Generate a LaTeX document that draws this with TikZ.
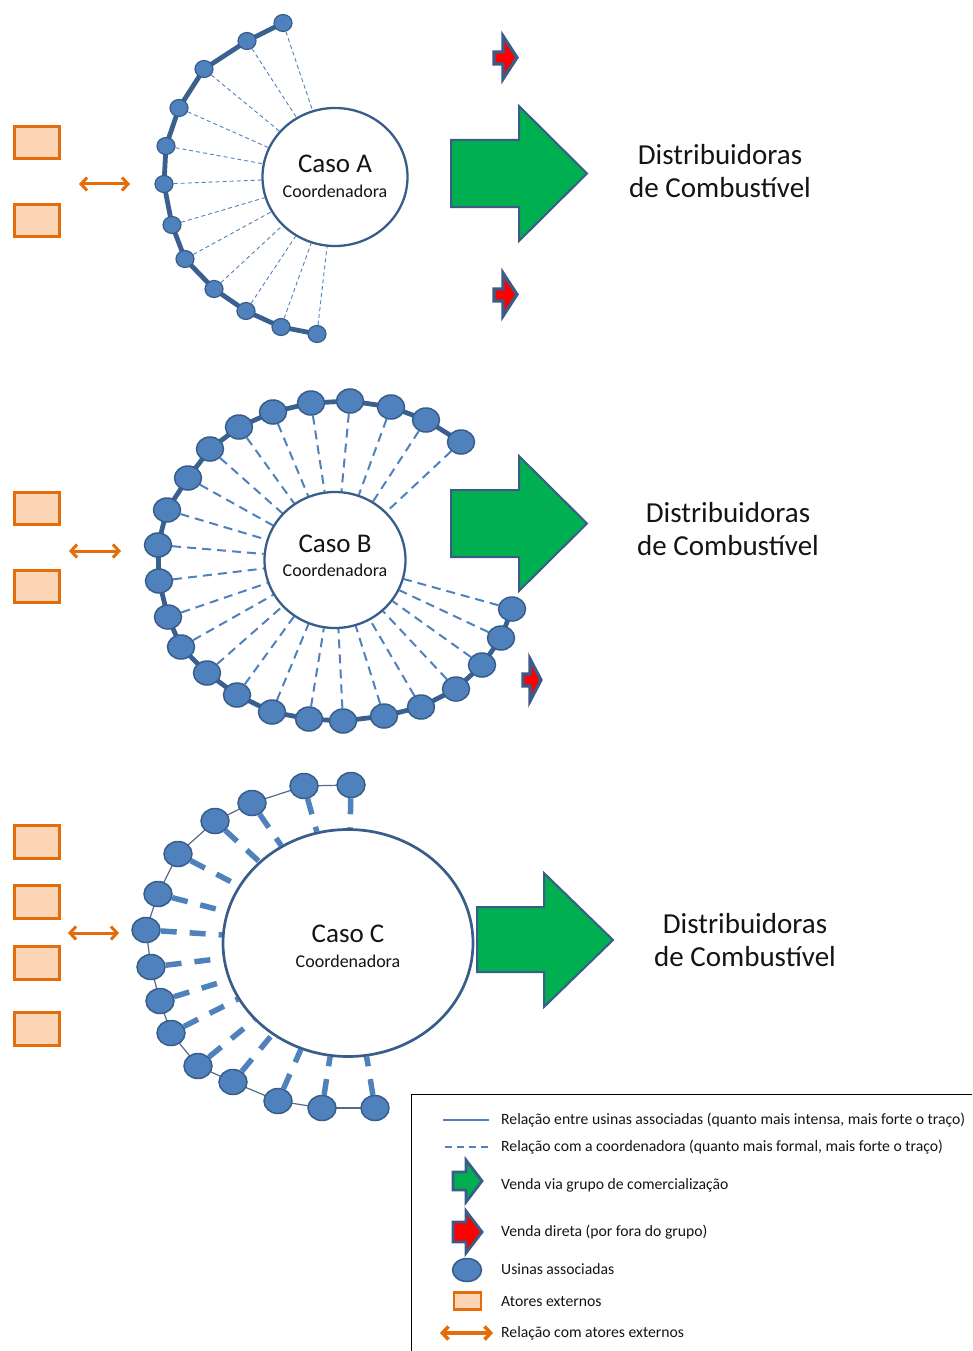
\documentclass[tikz,border=0pt]{standalone}
\usepackage{fontspec}
\setmainfont{Carlito}
\usetikzlibrary{arrows.meta,shapes.geometric}
\definecolor{nfill}{HTML}{4F81BD}
\definecolor{nbord}{HTML}{385D8A}
\definecolor{chain}{HTML}{3A6090}
\definecolor{chainthin}{HTML}{56698A}
\definecolor{dashc}{HTML}{4F81BD}
\definecolor{ofill}{HTML}{FBD5B5}
\definecolor{obord}{HTML}{E46C0A}
\definecolor{gfill}{HTML}{00B050}
\definecolor{rfill}{HTML}{FF0000}
\definecolor{abord}{HTML}{3B5B88}
\definecolor{txt}{HTML}{141414}
\pgfdeclarelayer{bg}
\pgfsetlayers{bg,main}
\begin{document}
\begin{tikzpicture}[x=1pt,y=-1pt,
  usinaA/.style={ellipse,draw=nbord,fill=nfill,line width=1.2pt,minimum width=18pt,minimum height=17pt,inner sep=0pt},
  usinaB/.style={ellipse,draw=nbord,fill=nfill,line width=1.5pt,minimum width=27pt,minimum height=24pt,inner sep=0pt},
  usinaC/.style={ellipse,draw=nbord,fill=nfill,line width=1.5pt,minimum width=28pt,minimum height=25pt,inner sep=0pt},
  coordbase/.style={ellipse,draw=nbord,fill=white,line width=2.3pt,inner sep=0pt},
  chainthick/.style={draw=chain,line width=4.8pt,line join=round},
  chainC/.style={draw=chainthin,line width=1.2pt},
  dashA/.style={draw=dashc,line width=0.9pt,dash pattern=on 4pt off 3pt},
  dashB/.style={draw=dashc,line width=2pt,dash pattern=on 9pt off 6pt},
  dashC/.style={draw=dashc,line width=5.5pt,dash pattern=on 16pt off 13pt},
  externo/.style={rectangle,draw=obord,fill=ofill,line width=2.6pt,minimum width=45.5pt,minimum height=32.5pt,inner sep=0pt},
  rel/.style={draw=obord,line width=3pt,{Straight Barb[length=6pt,width=13pt]}-{Straight Barb[length=6pt,width=13pt]}},
  greenarrow/.style={fill=gfill,draw=abord,line width=2pt,line join=miter},
  redarrow/.style={fill=rfill,draw=abord,line width=3.2pt,line join=miter},
  dest/.style={font=\fontsize{29}{33}\selectfont,align=center,text=txt,inner sep=0pt},
  caso/.style={font=\fontsize{27}{30}\selectfont,text=txt,inner sep=0pt},
  sub/.style={font=\fontsize{18}{20}\selectfont,text=txt,inner sep=0pt},
  leg/.style={font=\fontsize{15.7}{18}\selectfont,anchor=mid west,text=txt,inner sep=0pt}
]
\useasboundingbox (0,0) rectangle (972,1351);

% ================= CASO A =================
\node[coordbase,minimum width=145pt,minimum height=138pt] (ca) at (335,177) {};
\node[caso] (ca-t) at (335,164) {Caso A};
\node[sub] (ca-s) at (335,191) {Coordenadora};
\foreach \x/\y [count=\i] in {283/23,247/41,204/69,179/108,166/146,164/184,172/225,185/259,214/289,246/311,281/327,317/334}
  \node[usinaA] (a\i) at (\x,\y) {};
\begin{pgfonlayer}{bg}
\foreach \i [count=\j from 2] in {1,...,11} \draw[chainthick] (a\i.center) -- (a\j.center);
\foreach \i in {1,...,12} \draw[dashA] (a\i) -- (ca);
\end{pgfonlayer}
\node[externo] (ea1) at (37,142.5) {};
\node[externo] (ea2) at (37,220.5) {};
\coordinate (raL) at (79,184);
\coordinate (raR) at (130,184);
\draw[rel] (raL) -- (raR);
\draw[redarrow] (494,52) -- (503,52) -- (503,36) -- (517,57.5) -- (503,79) -- (503,64) -- (494,64) -- cycle;
\draw[greenarrow] (451,140) -- (519,140) -- (519,106) -- (587,173.5) -- (519,241) -- (519,207) -- (451,207) -- cycle;
\draw[redarrow] (494,289) -- (503,289) -- (503,273) -- (517,294.5) -- (503,316) -- (503,301) -- (494,301) -- cycle;
\node[dest] (da) at (720,171.5) {Distribuidoras\\de Combustível};

% ================= CASO B =================
\node[coordbase,minimum width=141pt,minimum height=136pt] (cb) at (335,560) {};
\node[caso] (cb-t) at (335,544) {Caso B};
\node[sub] (cb-s) at (335,570) {Coordenadora};
\foreach \x/\y [count=\i] in {461/442,426/420,391/407,350/401,311/403,273/412,239/427,210/449,188/478,167/510,158/545,159/581,168/617,181/647,207/673,237/695,272/712,309/719,343/721,384/716,421/707,456/689,482/665,501/638,512/609}
  \node[usinaB] (b\i) at (\x,\y) {};
\begin{pgfonlayer}{bg}
\foreach \i [count=\j from 2] in {1,...,24} \draw[chainthick] (b\i.center) -- (b\j.center);
\foreach \i in {1,...,25} \draw[dashB] (b\i) -- (cb);
\end{pgfonlayer}
\node[externo] (eb1) at (37,508.5) {};
\node[externo] (eb2) at (37,586.5) {};
\coordinate (rbL) at (69,551);
\coordinate (rbR) at (121,551);
\draw[rel] (rbL) -- (rbR);
\draw[greenarrow] (451,490) -- (519,490) -- (519,456) -- (587,523.5) -- (519,591) -- (519,557) -- (451,557) -- cycle;
\draw[redarrow] (523,674) -- (530,674) -- (530,659) -- (541,680) -- (530,701) -- (530,686) -- (523,686) -- cycle;
\node[dest] (db) at (728,529) {Distribuidoras\\de Combustível};

% ================= CASO C =================
\node[coordbase,line width=2.7pt,minimum width=250pt,minimum height=227pt] (cc) at (348,943) {};
\node[caso] (cc-t) at (348,934) {Caso C};
\node[sub] (cc-s) at (348,961) {Coordenadora};
\foreach \x/\y [count=\i] in {351/785,304/786,252/803,215/821,178/854,158/894,146/930,151/967,160/1001,171/1033,198/1066,233/1082,278/1101,322/1108,375/1108}
  \node[usinaC] (c\i) at (\x,\y) {};
\begin{pgfonlayer}{bg}
\foreach \i [count=\j from 2] in {1,...,14} \draw[chainC] (c\i.center) -- (c\j.center);
\foreach \i in {1,...,15} \draw[dashC] (c\i) -- (cc);
\end{pgfonlayer}
\node[externo] (ec1) at (37,842) {};
\node[externo] (ec2) at (37,902) {};
\node[externo] (ec3) at (37,963) {};
\node[externo] (ec4) at (37,1029) {};
\coordinate (rcL) at (68,933);
\coordinate (rcR) at (119,933);
\draw[rel] (rcL) -- (rcR);
\draw[greenarrow] (477,907) -- (544,907) -- (544,873) -- (613,940) -- (544,1007) -- (544,972) -- (477,972) -- cycle;
\node[dest] (dc) at (745,940.5) {Distribuidoras\\de Combustível};

% ================= LEGENDA =================
\draw[line width=1pt,black] (411.5,1351) -- (411.5,1094.5) -- (972,1094.5);
\coordinate (l1a) at (443,1120);
\coordinate (l1b) at (489,1120);
\draw[draw=nfill,line width=1.8pt] (l1a) -- (l1b);
\coordinate (l2a) at (445,1147);
\coordinate (l2b) at (489,1147);
\draw[draw=nfill,line width=1.8pt,dash pattern=on 7pt off 5pt] (l2a) -- (l2b);
\draw[greenarrow,line width=2.8pt] (453,1172) -- (466,1172) -- (466,1160) -- (482,1181) -- (466,1202) -- (466,1190) -- (453,1190) -- cycle;
\draw[redarrow,line width=2.8pt] (453,1222) -- (466,1222) -- (466,1211) -- (482,1232) -- (466,1253) -- (466,1242) -- (453,1242) -- cycle;
\node[ellipse,draw=nbord,fill=nfill,line width=1.5pt,minimum width=29pt,minimum height=23pt,inner sep=0pt] (lu) at (467,1270) {};
\node[externo,minimum width=27pt,minimum height=17pt,line width=2.4pt] (le) at (467.5,1301) {};
\coordinate (l7a) at (440,1333);
\coordinate (l7b) at (493,1333);
\draw[rel,line width=3.6pt] (l7a) -- (l7b);
\node[leg] (t1) at (501,1122) {Relação entre usinas associadas (quanto mais intensa, mais forte o traço)};
\node[leg] (t2) at (501,1149) {Relação com a coordenadora (quanto mais formal, mais forte o traço)};
\node[leg] (t3) at (501,1187) {Venda via grupo de comercialização};
\node[leg] (t4) at (501,1234) {Venda direta (por fora do grupo)};
\node[leg] (t5) at (501,1272) {Usinas associadas};
\node[leg] (t6) at (501,1304) {Atores externos};
\node[leg] (t7) at (501,1335) {Relação com atores externos};
\end{tikzpicture}
\end{document}
